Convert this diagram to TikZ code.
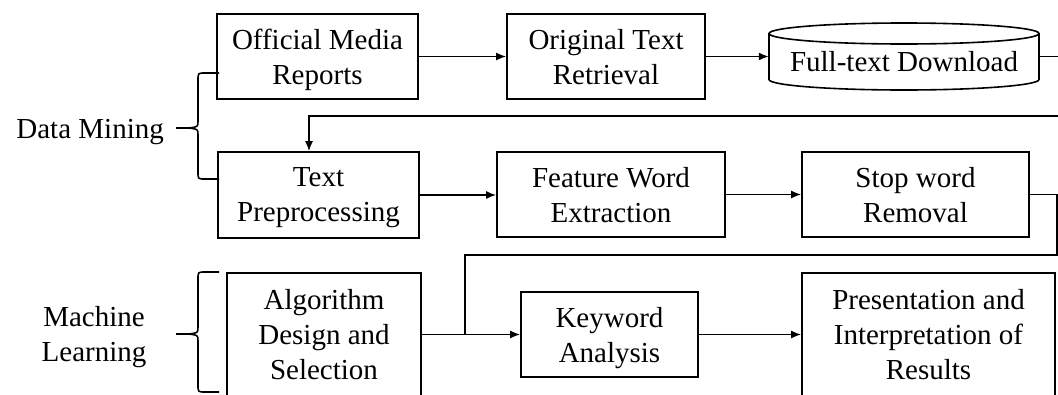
\documentclass[tikz,border=0pt]{standalone}
\usepackage{fontspec}
\setmainfont{Liberation Serif}
\usetikzlibrary{arrows.meta}
\newcommand{\fsz}{\fontsize{29pt}{35pt}\selectfont}
\tikzset{
  box/.style={draw, line width=1.6pt, inner sep=0pt, align=center, font=\fsz, text depth=0pt},
  lbl/.style={align=center, font=\fsz, inner sep=0pt},
  conn/.style={line width=1.6pt},
  arr/.style={conn, -{Latex[length=10pt,width=8pt]}},
  brace/.style={line width=1.6pt}
}
\begin{document}
\begin{tikzpicture}[x=1pt,y=-1pt]
\useasboundingbox (0,0) rectangle (1058,394);
\clip (0,0) rectangle (1058,394);
\fill[white] (0,0) rectangle (1058,394);

% row 1
\node[box, minimum width=201pt, minimum height=85pt] (omr) at (317.5,56.5) {Official Media\\Reports};
\node[box, minimum width=198pt, minimum height=85pt] (otr) at (606,56.5) {Original Text\\Retrieval};
\node[inner sep=0pt, minimum width=270pt, minimum height=67pt] (cyl) at (904,56.5) {};
\node[lbl] (cyltxt) at (904,62) {Full-text Download};
\draw[conn] (904,33.5) ellipse [x radius=135pt, y radius=10.5pt];
\draw[conn] (769,33.5) -- (769,79.5) arc [start angle=180, end angle=360, x radius=135pt, y radius=10.5pt] -- (1039,33.5);

% row 2
\node[box, minimum width=201pt, minimum height=86pt] (tp) at (318.5,195) {Text\\Preprocessing};
\node[box, minimum width=228pt, minimum height=85pt] (fwe) at (611,194.5) {Feature Word\\Extraction};
\node[box, minimum width=227pt, minimum height=85pt] (swr) at (915.5,194.5) {Stop word\\Removal};

% row 3
\node[box, minimum width=194pt, minimum height=123pt] (ads) at (324,334.5) {Algorithm\\Design and\\Selection};
\node[box, minimum width=177pt, minimum height=85pt] (ka) at (609.5,334.5) {Keyword\\Analysis};
\node[box, minimum width=253pt, minimum height=123pt] (pir) at (928.5,334.5) {Presentation and\\Interpretation of\\Results};

% labels
\node[lbl, anchor=base east] (dm) at (164,138) {Data Mining};
\node[lbl] (ml) at (94,337) {Machine\\Learning};

% braces
\draw[brace] (219,73) -- (205,73) .. controls (198,73) .. (198,80) -- (198,121)
  .. controls (198,127) .. (188,128) -- (176,128)
  -- (188,128) .. controls (198,129) .. (198,135) -- (198,172)
  .. controls (198,179) .. (205,179) -- (219,179);
\draw[brace] (219,272) -- (205,272) .. controls (198,272) .. (198,279) -- (198,327)
  .. controls (198,333) .. (188,334) -- (176,334)
  -- (188,334) .. controls (198,335) .. (198,341) -- (198,385)
  .. controls (198,392) .. (205,392) -- (219,392);

% connectors
\draw[arr] (omr) -- (otr);
\draw[arr] (otr.east) -- (otr.east -| cyl.west);
\coordinate (fb1) at (1064,56.5);
\coordinate (fb2) at (1064,116);
\coordinate (fb3) at (309,116);
\draw[arr] (cyl.east) -- (fb1) -- (fb2) -- (fb3) -- (fb3 |- tp.north);
\draw[arr] (tp.east) -- (tp.east -| fwe.west);
\draw[arr] (fwe) -- (swr);
\coordinate (c1) at (1057,194.5);
\coordinate (c2) at (1057,255);
\coordinate (c3) at (465,255);
\draw[conn] (swr.east) -- (c1) -- (c2) -- (c3) -- (c3 |- ads.east);
\draw[arr] (ads.east) -- (ka.west);
\draw[arr] (ka.east) -- (ka.east -| pir.west);
\end{tikzpicture}
\end{document}
